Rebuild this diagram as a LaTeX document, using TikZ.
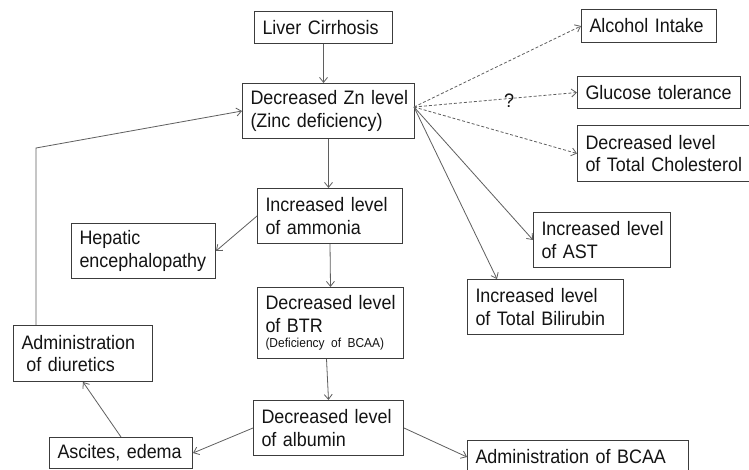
\documentclass[tikz,border=0pt]{standalone}
\usepackage{fontspec}
\setmainfont{Liberation Sans}[FakeStretch=0.92]
\usetikzlibrary{arrows.meta}
\definecolor{boxc}{RGB}{60,60,60}
\definecolor{linec}{RGB}{95,95,95}
\definecolor{txtc}{RGB}{20,20,20}
\begin{document}
\begin{tikzpicture}[x=1pt,y=-1pt,
  box/.style={draw=boxc, line width=1pt, rectangle, anchor=north west,
    inner xsep=8pt, inner ysep=0pt, align=left,
    font=\fontsize{19.5}{22.5}\selectfont, text=txtc},
  conn/.style={draw=linec, line width=0.8pt, -{Straight Barb[length=5pt,width=8pt]}},
  dconn/.style={conn, dash pattern=on 3pt off 2pt}]
\useasboundingbox (0,0) rectangle (749,470);
\fill[white] (0,0) rectangle (749,470);

\node[box, text width=122pt, minimum height=32pt] (liver) at (254,11) {\mbox{Liver Cirrhosis}};
\node[box, text width=119pt, minimum height=33pt] (alcohol) at (581,9) {\mbox{Alcohol Intake}};
\node[box, text width=147pt, minimum height=32pt] (glucose) at (577,76) {\mbox{Glucose tolerance}};
\node[box, text width=156pt, minimum height=55pt] (zn) at (242,83) {\mbox{Decreased Zn level}\\\mbox{(Zinc deficiency)}};
\node[box, text width=158pt, minimum height=56pt] (chol) at (577,125) {\mbox{Decreased level}\\\mbox{of Total Cholesterol}};
\node[box, text width=129pt, minimum height=55pt] (ammonia) at (257,188) {\mbox{Increased level}\\\mbox{of ammonia}};
\node[box, text width=128pt, minimum height=55pt] (hepatic) at (71,223) {\mbox{Hepatic}\\\mbox{encephalopathy}};
\node[box, text width=121pt, minimum height=55pt] (ast) at (533,212) {\mbox{Increased level}\\\mbox{of AST}};
\node[box, text width=140pt, minimum height=55pt] (bili) at (467,279) {\mbox{Increased level}\\\mbox{of Total Bilirubin}};
\node[box, text width=130pt, minimum height=71pt] (btr) at (257,287) {\mbox{Decreased level}\\\mbox{of BTR}\\[-7.5pt]{\fontsize{13}{15}\selectfont\mbox{(Deficiency of BCAA)}}};
\node[box, text width=123pt, minimum height=56pt] (diur) at (13,325) {\mbox{Administration}\\\mbox{\hspace*{5pt}of diuretics}};
\node[box, text width=134pt, minimum height=55pt] (alb) at (253,400) {\mbox{Decreased level}\\\mbox{of albumin}};
\node[box, text width=127pt, minimum height=31pt] (asc) at (49,437) {\mbox{Ascites, edema}};
\node[box, text width=205pt, minimum height=33pt] (bcaa) at (467,440) {\mbox{Administration of BCAA}};

\coordinate (zr) at (414,107);
\coordinate (bend) at (36,148);

\draw[conn] (liver.south) -- (liver.south |- zn.north);
\draw[conn] (zn.south) -- (zn.south |- ammonia.north);
\draw[conn] (ammonia.south) -- (btr.north);
\draw[conn] (ammonia.west) -- (hepatic.east);
\draw[conn] ([xshift=-4pt]btr.south) -- (alb.north);
\draw[conn] (alb.west) -- (asc.east);
\draw[conn] (alb.east) -- (bcaa.west);
\draw[conn] (asc.north) -- (diur.south);
\draw[conn] (bend |- diur.north) -- (bend) -- (zn.west);
\draw[dconn] (zr) -- (alcohol.west);
\draw[dconn] (zr) -- (glucose.west);
\draw[dconn] (zr) -- (chol.west);
\draw[conn] (zr) -- (ast.west);
\draw[conn] (zr) -- ([xshift=30pt]bili.north west);
\node[font=\fontsize{19.5}{22}\selectfont, text=txtc, inner sep=0pt] (q) at (509,101) {?};
\end{tikzpicture}
\end{document}
